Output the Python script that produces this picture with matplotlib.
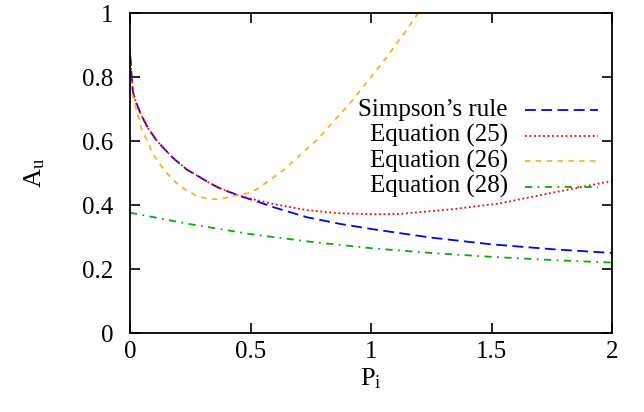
import matplotlib
matplotlib.use("Agg")
import matplotlib.pyplot as plt

plt.rcParams['font.family'] = ['Liberation Serif', 'DejaVu Serif']
plt.rcParams['mathtext.fontset'] = 'custom'
plt.rcParams['mathtext.rm'] = 'Liberation Serif'
plt.rcParams['mathtext.it'] = 'Liberation Serif'

# values
x_simpson = [0.0, 0.003, 0.005, 0.008, 0.012, 0.026, 0.047, 0.075, 0.109, 0.144, 0.18, 0.235, 0.29,
             0.332, 0.373, 0.415, 0.456, 0.498, 0.539, 0.6, 0.733, 0.871, 1.01, 1.25, 1.5, 1.75, 2.0]
y_simpson = [0.87, 0.85, 0.82, 0.79, 0.754, 0.718, 0.681, 0.64, 0.603, 0.574, 0.546, 0.511, 0.487,
             0.468, 0.452, 0.44, 0.428, 0.418, 0.408, 0.392, 0.362, 0.341, 0.324, 0.298, 0.277, 0.262, 0.25]

x_eq25 = [0.0, 0.003, 0.005, 0.008, 0.012, 0.026, 0.047, 0.075, 0.109, 0.144, 0.18, 0.235, 0.29,
          0.332, 0.373, 0.415, 0.456, 0.5, 0.595, 0.733, 0.871, 1.024, 1.12, 1.34, 1.535, 1.743, 2.0]
y_eq25 = [0.87, 0.85, 0.82, 0.79, 0.754, 0.718, 0.681, 0.64, 0.603, 0.574, 0.546, 0.511, 0.487,
          0.468, 0.452, 0.44, 0.429, 0.42, 0.403, 0.384, 0.374, 0.371, 0.372, 0.387, 0.405, 0.437, 0.475]

x_eq26 = [0.0, 0.008, 0.019, 0.026, 0.037, 0.047, 0.061, 0.077, 0.09, 0.111, 0.134, 0.159, 0.187, 0.214,
          0.246, 0.277, 0.315, 0.353, 0.39, 0.429, 0.498, 0.532, 0.636, 0.775, 0.913, 1.051, 1.148, 1.2]
y_eq26 = [0.78, 0.749, 0.723, 0.697, 0.671, 0.64, 0.616, 0.593, 0.567, 0.541, 0.517, 0.494, 0.473, 0.455,
          0.442, 0.428, 0.421, 0.418, 0.421, 0.428, 0.438, 0.452, 0.509, 0.603, 0.718, 0.848, 0.947, 1.005]

x_eq28 = [0.0, 0.25, 0.5, 0.75, 1.0, 1.25, 1.5, 1.75, 2.0]
y_eq28 = [0.376, 0.34, 0.309, 0.285, 0.265, 0.25, 0.238, 0.228, 0.22]

labels = ["Simpson\u2019s rule", "Equation (25)", "Equation (26)", "Equation (28)"]
colors = ["#0000ff", "#ff0000", "#ffb020", "#00b000"]
dashes = [(6, 3), (1, 1.5), (3, 3), (4, 3, 1, 3)]

fig = plt.figure(figsize=(6.44, 4.12), dpi=100)
ax = fig.add_axes([130 / 644, 1 - 333 / 412, 482 / 644, 320 / 412])

series = [(x_simpson, y_simpson), (x_eq25, y_eq25), (x_eq26, y_eq26), (x_eq28, y_eq28)]
for (xs, ys), c, d in zip(series, colors, dashes):
    ax.plot(xs, ys, color=c, lw=1.3, dashes=d)

ax.set_xlim(0, 2)
ax.set_ylim(0, 1)
ax.set_xticks([0, 0.5, 1, 1.5, 2])
ax.set_xticklabels(["0", "0.5", "1", "1.5", "2"])
ax.set_yticks([0, 0.2, 0.4, 0.6, 0.8, 1])
ax.set_yticklabels(["0", "0.2", "0.4", "0.6", "0.8", "1"])
ax.tick_params(direction='in', length=7, width=1.2, top=True, right=True, labelsize=18)
ax.tick_params(axis='y', pad=12)
ax.tick_params(axis='x', pad=6)
for s in ax.spines.values():
    s.set_linewidth(1.3)

ax.set_xlabel(r"$\mathrm{P_i}$", fontsize=19, labelpad=2)
ax.set_ylabel(r"$\mathrm{A_u}$", fontsize=19, labelpad=25)

# gnuplot style key: text right aligned, sample on the right
for i, (lab, c, d) in enumerate(zip(labels, colors, dashes)):
    yk = 0.697 - i * 0.08
    ax.text(0.784, yk, lab, transform=ax.transAxes, ha='right', va='center', fontsize=18)
    ax.plot([0.819, 0.971], [yk, yk], transform=ax.transAxes, color=c, lw=1.3, dashes=d)

fig.savefig("out.png", dpi=100)
